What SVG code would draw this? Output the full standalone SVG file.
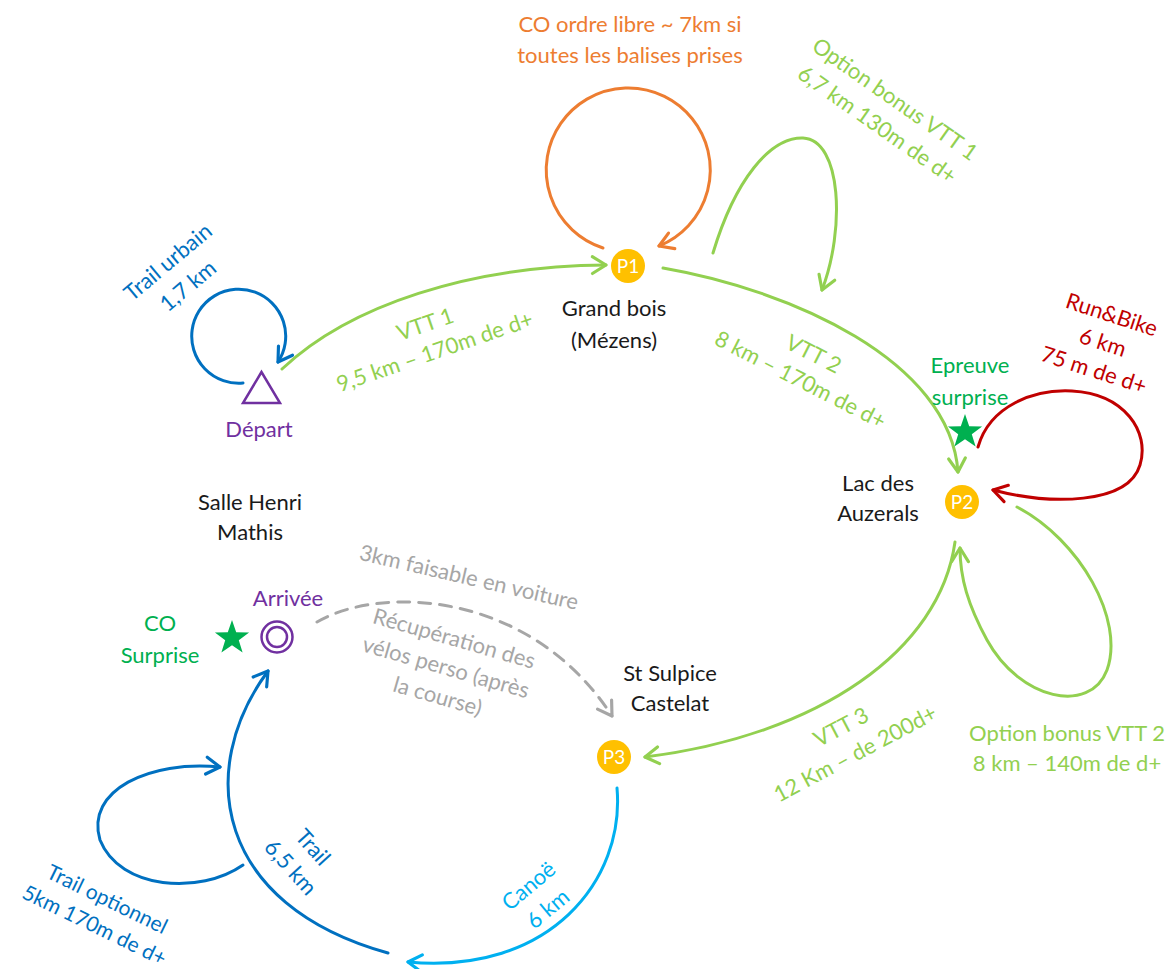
<svg xmlns="http://www.w3.org/2000/svg" width="1170" height="969" viewBox="0 0 1170 969">
<defs>
<style>
.t{font-family:Lato,"Liberation Sans",sans-serif;font-size:22px;text-anchor:middle}
.blk{fill:#1a1a1a}
.grn{fill:#92D050}
.org{fill:#ED7D31}
.blu{fill:#0070C0}
.lbl{fill:#00B0F0}
.red{fill:#C00000}
.sg{fill:#00B050}
.pur{fill:#7030A0}
.gry{fill:#A6A6A6}
.e{fill:none;stroke-width:3;stroke-linecap:round}
.pn{fill:#FFC000}
.pt{font-family:Lato,"Liberation Sans",sans-serif;font-size:19px;fill:#fff;text-anchor:middle}
</style>
<marker id="aG" viewBox="0 0 20 20" refX="16" refY="10" markerWidth="21" markerHeight="21" markerUnits="userSpaceOnUse" orient="auto"><path d="M3,2 L16,10 L3,18" fill="none" stroke="#92D050" stroke-width="3" stroke-linecap="round" stroke-linejoin="round"/></marker>
<marker id="aO" viewBox="0 0 20 20" refX="16" refY="10" markerWidth="21" markerHeight="21" markerUnits="userSpaceOnUse" orient="auto"><path d="M3,2 L16,10 L3,18" fill="none" stroke="#ED7D31" stroke-width="3" stroke-linecap="round" stroke-linejoin="round"/></marker>
<marker id="aB" viewBox="0 0 20 20" refX="16" refY="10" markerWidth="21" markerHeight="21" markerUnits="userSpaceOnUse" orient="auto"><path d="M3,2 L16,10 L3,18" fill="none" stroke="#0070C0" stroke-width="3" stroke-linecap="round" stroke-linejoin="round"/></marker>
<marker id="aL" viewBox="0 0 20 20" refX="16" refY="10" markerWidth="21" markerHeight="21" markerUnits="userSpaceOnUse" orient="auto"><path d="M3,2 L16,10 L3,18" fill="none" stroke="#00B0F0" stroke-width="3" stroke-linecap="round" stroke-linejoin="round"/></marker>
<marker id="aR" viewBox="0 0 20 20" refX="16" refY="10" markerWidth="21" markerHeight="21" markerUnits="userSpaceOnUse" orient="auto"><path d="M3,2 L16,10 L3,18" fill="none" stroke="#C00000" stroke-width="3" stroke-linecap="round" stroke-linejoin="round"/></marker>
<marker id="aY" viewBox="0 0 20 20" refX="16" refY="10" markerWidth="21" markerHeight="21" markerUnits="userSpaceOnUse" orient="auto"><path d="M3,2 L16,10 L3,18" fill="none" stroke="#A6A6A6" stroke-width="3" stroke-linecap="round" stroke-linejoin="round"/></marker>
<path id="star" d="M0,-18 L4.2,-5.8 L17.1,-5.6 L6.8,2.2 L10.6,14.6 L0,7.2 L-10.6,14.6 L-6.8,2.2 L-17.1,-5.6 L-4.2,-5.8 Z"/>
</defs>
<rect width="1170" height="969" fill="#fff"/>

<g id="connectors">
<path class="e" stroke="#ED7D31" d="M603,248 A82,82 0 1 1 659,246" marker-end="url(#aO)"/>
<path class="e" stroke="#92D050" d="M282,369 C350,305 470,266 606,265" marker-end="url(#aG)"/>
<path class="e" stroke="#92D050" d="M663,268 C790,290 950,360 958,472" marker-end="url(#aG)"/>
<path class="e" stroke="#92D050" d="M713,253 C735,180 770,137 803,138 C842,140 845,230 822,290" marker-end="url(#aG)"/>
<path class="e" stroke="#0070C0" d="M243,383 A47,47 0 1 1 278,362" marker-end="url(#aB)"/>
<path class="e" stroke="#C00000" d="M978,447 C990,405 1035,389 1072,391 C1125,394 1150,432 1140,465 C1128,505 1050,505 993,490" marker-end="url(#aR)"/>
<path class="e" stroke="#92D050" d="M1017,507 C1080,540 1125,620 1107,670 C1090,715 1020,700 987,640 C968,605 960,578 960,548" marker-end="url(#aG)"/>
<path class="e" stroke="#92D050" d="M955,542 C940,650 820,735 645,757" marker-end="url(#aG)"/>
<path class="e" stroke="#A6A6A6" stroke-dasharray="12,9" stroke-linecap="butt" d="M317,622 C380,585 530,590 612,716" marker-end="url(#aY)"/>
<path class="e" stroke="#00B0F0" d="M617,788 C625,880 550,975 408,962" marker-end="url(#aL)"/>
<path class="e" stroke="#0070C0" d="M388,953 C215,905 195,770 268,671" marker-end="url(#aB)"/>
<path class="e" stroke="#0070C0" d="M243,865 C200,895 120,890 100,840 C85,790 150,760 220,767" marker-end="url(#aB)"/>
</g>

<g id="p1"><circle class="pn" cx="628" cy="266" r="17"/><text class="pt" x="628" y="272.5">P1</text></g>
<g id="p2"><circle class="pn" cx="962" cy="502" r="17"/><text class="pt" x="962" y="508.5">P2</text></g>
<g id="p3"><circle class="pn" cx="614" cy="757" r="17"/><text class="pt" x="614" y="763.5">P3</text></g>
<g id="depart"><path d="M261.5,372 L243,403 L280,403 Z" fill="none" stroke="#7030A0" stroke-width="2.5" stroke-linejoin="miter"/>
<text class="t pur" x="259" y="437">Départ</text></g>
<g id="arrivee"><circle cx="277" cy="637" r="15.5" fill="none" stroke="#7030A0" stroke-width="2.5"/><circle cx="277" cy="637" r="10" fill="none" stroke="#7030A0" stroke-width="2.5"/>
<text class="t pur" x="288" y="606">Arrivée</text></g>
<g id="star-p2"><use href="#star" fill="#00B050" transform="translate(965,432)"/></g>
<g id="star-arrivee"><use href="#star" fill="#00B050" transform="translate(232,638)"/></g>

<g id="labels">
<text class="t org" transform="translate(630,40)"><tspan x="0" y="-8">CO ordre libre ~ 7km si</tspan><tspan x="0" y="23">toutes les balises prises</tspan></text>
<text class="t grn" transform="translate(886,112) rotate(35)"><tspan x="0" y="-8">Option bonus VTT 1</tspan><tspan x="0" y="23">6,7 km 130m de d+</tspan></text>
<text class="t blu" transform="translate(178,274) rotate(-40)"><tspan x="0" y="-8">Trail urbain</tspan><tspan x="0" y="23">1,7 km</tspan></text>
<text class="t grn" transform="translate(430,338) rotate(-19)"><tspan x="0" y="-7">VTT 1</tspan><tspan x="0" y="22">9,5 km – 170m de d+</tspan></text>
<text class="t blk" transform="translate(614,324)"><tspan x="0" y="-8">Grand bois</tspan><tspan x="0" y="24">(Mézens)</tspan></text>
<text class="t grn" transform="translate(807,367) rotate(27)"><tspan x="0" y="-7">VTT 2</tspan><tspan x="0" y="22">8 km – 170m de d+</tspan></text>
<text class="t sg" transform="translate(970,381)"><tspan x="0" y="-8">Epreuve</tspan><tspan x="0" y="24">surprise</tspan></text>
<text class="t red" transform="translate(1103,342) rotate(18)"><tspan x="0" y="-21">Run&amp;Bike</tspan><tspan x="0" y="8">6 km</tspan><tspan x="0" y="37">75 m de d+</tspan></text>
<text class="t blk" transform="translate(878,498)"><tspan x="0" y="-7">Lac des</tspan><tspan x="0" y="23">Auzerals</tspan></text>
<text class="t grn" transform="translate(1067,748)"><tspan x="0" y="-7">Option bonus VTT 2</tspan><tspan x="0" y="23">8 km – 140m de d+</tspan></text>
<text class="t grn" transform="translate(848,740) rotate(-28)"><tspan x="0" y="-7">VTT 3</tspan><tspan x="0" y="23">12 Km – de 200d+</tspan></text>
<text class="t blk" transform="translate(670,688)"><tspan x="0" y="-7">St Sulpice</tspan><tspan x="0" y="23">Castelat</tspan></text>
<text class="t gry" transform="translate(469,577) rotate(13)"><tspan x="0" y="8">3km faisable en voiture</tspan></text>
<text class="t gry" transform="translate(446,667) rotate(16)"><tspan x="0" y="-22">Récupération des</tspan><tspan x="0" y="8">vélos perso (après</tspan><tspan x="0" y="38">la course)</tspan></text>
<text class="t sg" transform="translate(160,639)"><tspan x="0" y="-8">CO</tspan><tspan x="0" y="24">Surprise</tspan></text>
<text class="t blk" transform="translate(250,517)"><tspan x="0" y="-7">Salle Henri</tspan><tspan x="0" y="23">Mathis</tspan></text>
<text class="t blu" transform="translate(302,857) rotate(48)"><tspan x="0" y="-7">Trail</tspan><tspan x="0" y="23">6,5 km</tspan></text>
<text class="t blu" transform="translate(101,912) rotate(26)" style="font-size:21px"><tspan x="0" y="-7">Trail optionnel</tspan><tspan x="0" y="22">5km 170m de d+</tspan></text>
<text class="t lbl" transform="translate(538,897) rotate(-40)"><tspan x="0" y="-7">Canoë</tspan><tspan x="0" y="23">6 km</tspan></text>
</g>
</svg>
